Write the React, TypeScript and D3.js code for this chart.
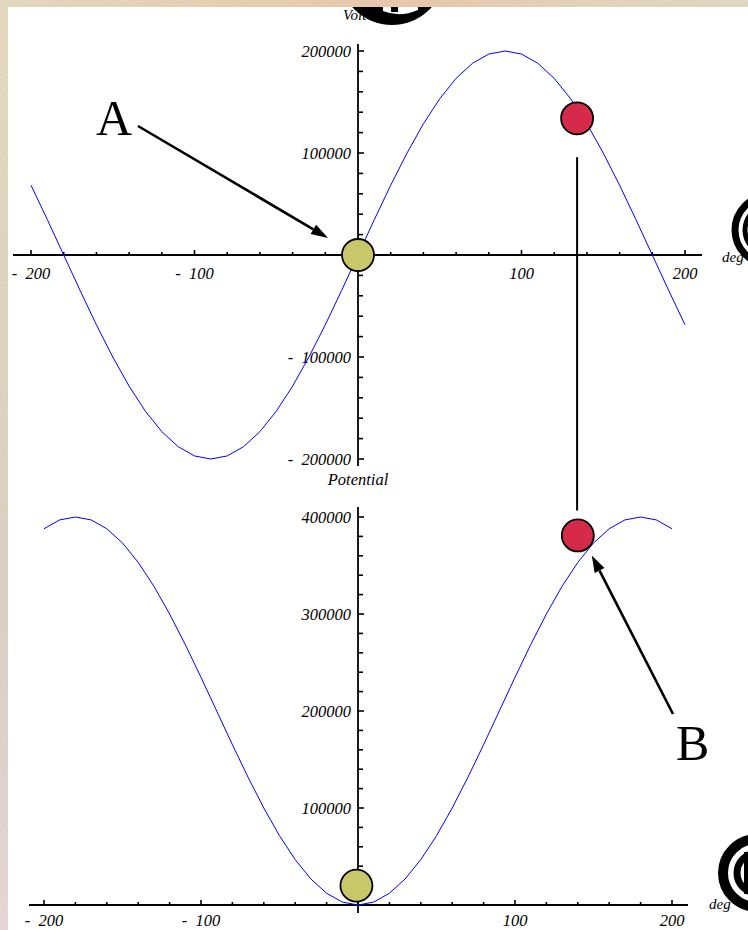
import React from "react";
import * as d3 from "d3";

// Sampled angle (degrees) and the readings of the two plotted quantities
const angles = [
  -200, -190, -180, -170, -160, -150, -140, -130, -120, -110, -100, -90, -80, -70, -60, -50, -40, -30, -20, -10,
  0, 10, 20, 30, 40, 50, 60, 70, 80, 90, 100, 110, 120, 130, 140, 150, 160, 170, 180, 190, 200,
];
const voltage = [
  68400, 34700, 0, -34700, -68400, -100000, -128600, -153200, -173200, -187900, -197000, -200000, -197000, -187900,
  -173200, -153200, -128600, -100000, -68400, -34700, 0, 34700, 68400, 100000, 128600, 153200, 173200, 187900,
  197000, 200000, 197000, 187900, 173200, 153200, 128600, 100000, 68400, 34700, 0, -34700, -68400,
];
const potential = [
  387900, 397000, 400000, 397000, 387900, 373200, 353200, 328600, 300000, 268400, 234700, 200000, 165300, 131600,
  100000, 71400, 46800, 26800, 12100, 3000, 0, 3000, 12100, 26800, 46800, 71400, 100000, 131600, 165300, 200000,
  234700, 268400, 300000, 328600, 353200, 373200, 387900, 397000, 400000, 397000, 387900,
];

// Axis ticks
const angleMajorTicks = [-200, -100, 100, 200];
const angleMinorTicks = d3.range(-200, 201, 20);
const voltageLabels = [-200000, -100000, 100000, 200000];
const voltageMinorTicks = d3.range(-200000, 200001, 20000);
const potentialLabels = [100000, 200000, 300000, 400000];
const potentialMinorTicks = d3.range(20000, 400001, 20000);

// Highlighted states
const voltMarkers = [
  { angle: 0, value: 0, color: "#c8c76a" },
  { angle: 134, value: 134000, color: "#d62a4b" },
];
const potentialMarkers = [
  { angle: -1, value: 20000, color: "#c8c76a" },
  { angle: 140, value: 381000, color: "#d62a4b" },
];

const W = 748;
const H = 930;
const FONT = "'Liberation Serif', 'DejaVu Serif', serif";

const fmt = (n: number) => (n < 0 ? "-\u2002" + Math.abs(n) : String(n));

function Arrow({ x1, y1, x2, y2 }: { x1: number; y1: number; x2: number; y2: number }) {
  const ang = Math.atan2(y2 - y1, x2 - x1);
  const len = 17;
  const half = 5.5;
  const bx = x2 - len * Math.cos(ang);
  const by = y2 - len * Math.sin(ang);
  const px = -Math.sin(ang) * half;
  const py = Math.cos(ang) * half;
  return (
    <g>
      <line x1={x1} y1={y1} x2={bx} y2={by} stroke="#000" strokeWidth={2.6} />
      <path d={`M${x2},${y2} L${bx + px},${by + py} L${bx - px},${by - py} Z`} fill="#000" />
    </g>
  );
}

export default function App() {
  // Voltage panel scales
  const xT = d3.scaleLinear().domain([-200, 200]).range([31, 685]);
  const yT = d3.scaleLinear().domain([-200000, 200000]).range([459, 51]);
  // Potential panel scales
  const xB = d3.scaleLinear().domain([-200, 200]).range([44, 672]);
  const yB = d3.scaleLinear().domain([0, 400000]).range([905, 517]);

  const voltLine = d3
    .line<number>()
    .x((_, i) => xT(angles[i]))
    .y((d) => yT(d));
  const potLine = d3
    .line<number>()
    .x((_, i) => xB(angles[i]))
    .y((d) => yB(d));

  const textStyle = { fontFamily: FONT, fontStyle: "italic" as const, fontSize: 16.5 };

  const topAxisY = yT(0);
  const topAxisX = xT(0);
  const botAxisY = yB(0);
  const botAxisX = xB(0);

  const redTop = voltMarkers[1];
  const redBot = potentialMarkers[1];

  return (
    <svg
      width={W}
      height={H}
      viewBox={`0 0 ${W} ${H}`}
      style={{ position: "fixed", left: 0, top: 0, display: "block" }}
    >
      <defs>
        <linearGradient id="bgTop" x1="0" x2="1" y1="0" y2="0">
          <stop offset="0" stopColor="#e7dcc3" />
          <stop offset="0.3" stopColor="#e9d2b4" />
          <stop offset="0.55" stopColor="#ecc9ae" />
          <stop offset="0.8" stopColor="#e6d7bd" />
          <stop offset="1" stopColor="#e2dcc6" />
        </linearGradient>
        <linearGradient id="bgLeft" x1="0" x2="0" y1="0" y2="1">
          <stop offset="0" stopColor="#e8dcc2" />
          <stop offset="0.35" stopColor="#e2d8c2" />
          <stop offset="0.65" stopColor="#ddd3c6" />
          <stop offset="1" stopColor="#ead9da" />
        </linearGradient>
        <filter id="grain" x="0" y="0" width="100%" height="100%">
          <feTurbulence type="fractalNoise" baseFrequency="0.35" numOctaves="2" seed="4" />
          <feColorMatrix type="matrix" values="0 0 0 0 0.45  0 0 0 0 0.4  0 0 0 0 0.33  0 0 0 0.35 0" />
          <feComposite in2="SourceGraphic" operator="in" />
        </filter>
        <clipPath id="panelClip">
          <rect x={8} y={7} width={W - 8} height={H - 7} />
        </clipPath>
      </defs>

      {/* backdrop strips */}
      <rect x={0} y={0} width={W} height={H} fill="url(#bgLeft)" />
      <rect x={0} y={0} width={W} height={8} fill="url(#bgTop)" />
      <rect x={0} y={0} width={W} height={H} fill="#000" filter="url(#grain)" opacity={0.5} />
      <rect x={8} y={7} width={W - 8} height={H - 7} fill="#fff" />

      {/* ---------- Voltage panel ---------- */}
      <g>
        <line x1={13} x2={702} y1={topAxisY} y2={topAxisY} stroke="#000" strokeWidth={1.8} />
        {angleMinorTicks.map((t) => (
          <line
            key={`tm${t}`}
            x1={xT(t)}
            x2={xT(t)}
            y1={topAxisY}
            y2={topAxisY - (angleMajorTicks.includes(t) ? 5 : 3)}
            stroke="#000"
            strokeWidth={1.6}
          />
        ))}
        {angleMajorTicks.map((t) => (
          <text key={`tl${t}`} x={xT(t)} y={topAxisY + 24} textAnchor="middle" {...textStyle}>
            {fmt(t)}
          </text>
        ))}
        <line x1={topAxisX} x2={topAxisX} y1={44} y2={466} stroke="#000" strokeWidth={1.8} />
        {voltageMinorTicks
          .filter((v) => v !== 0)
          .map((v) => (
            <line
              key={`vm${v}`}
              x1={topAxisX}
              x2={topAxisX + (voltageLabels.includes(v) ? 6 : 5)}
              y1={yT(v)}
              y2={yT(v)}
              stroke="#000"
              strokeWidth={1.6}
            />
          ))}
        {voltageLabels.map((v) => (
          <text key={`vl${v}`} x={topAxisX - 7} y={yT(v) + 5.5} textAnchor="end" {...textStyle}>
            {fmt(v)}
          </text>
        ))}
        <text x={343} y={20} {...textStyle} fontSize={15}>
          Volt
        </text>
        <text x={722} y={262} {...textStyle} fontSize={15}>
          deg
        </text>
        <path d={voltLine(voltage) ?? ""} fill="none" stroke="#0000ff" strokeWidth={1} />
      </g>

      {/* ---------- Potential panel ---------- */}
      <g>
        <line x1={29} x2={688} y1={botAxisY} y2={botAxisY} stroke="#000" strokeWidth={1.8} />
        {angleMinorTicks.map((t) => (
          <line
            key={`bm${t}`}
            x1={xB(t)}
            x2={xB(t)}
            y1={botAxisY}
            y2={botAxisY - (angleMajorTicks.includes(t) ? 5 : 3)}
            stroke="#000"
            strokeWidth={1.6}
          />
        ))}
        {angleMajorTicks.map((t) => (
          <text key={`bl${t}`} x={xB(t)} y={botAxisY + 21} textAnchor="middle" {...textStyle}>
            {fmt(t)}
          </text>
        ))}
        <line x1={botAxisX} x2={botAxisX} y1={507} y2={913} stroke="#000" strokeWidth={1.8} />
        {potentialMinorTicks.map((v) => (
          <line
            key={`pm${v}`}
            x1={botAxisX}
            x2={botAxisX + (potentialLabels.includes(v) ? 6 : 5)}
            y1={yB(v)}
            y2={yB(v)}
            stroke="#000"
            strokeWidth={1.6}
          />
        ))}
        {potentialLabels.map((v) => (
          <text key={`pl${v}`} x={botAxisX - 7} y={yB(v) + 5.5} textAnchor="end" {...textStyle}>
            {fmt(v)}
          </text>
        ))}
        <text x={botAxisX} y={485} textAnchor="middle" {...textStyle}>
          Potential
        </text>
        <text x={709} y={909} {...textStyle} fontSize={15}>
          deg
        </text>
        <path d={potLine(potential) ?? ""} fill="none" stroke="#0000ff" strokeWidth={1} />
      </g>

      {/* link between the two red states */}
      <line
        x1={xT(redTop.angle)}
        x2={xT(redTop.angle)}
        y1={yT(redTop.value) + 39}
        y2={yB(redBot.value) - 25}
        stroke="#000"
        strokeWidth={2}
      />

      {/* state markers */}
      {voltMarkers.map((m, i) => (
        <circle key={`vc${i}`} cx={xT(m.angle)} cy={yT(m.value)} r={16} fill={m.color} stroke="#000" strokeWidth={1.8} />
      ))}
      {potentialMarkers.map((m, i) => (
        <circle key={`pc${i}`} cx={xB(m.angle)} cy={yB(m.value)} r={16} fill={m.color} stroke="#000" strokeWidth={1.8} />
      ))}

      {/* callouts */}
      <text x={96} y={135} fontFamily={FONT} fontSize={50}>
        A
      </text>
      <Arrow x1={138} y1={126} x2={xT(0) - 30} y2={yT(0) - 17} />
      <text x={676} y={760} fontFamily={FONT} fontSize={50}>
        B
      </text>
      <Arrow x1={673} y1={714} x2={xB(redBot.angle) + 14} y2={yB(redBot.value) + 20} />

      {/* partially visible round emblems at the edges */}
      <g clipPath="url(#panelClip)">
        <circle cx={392} cy={-28} r={53} fill="#000" />
        <path d="M383,7 L383,11 Q400,18 418,10 L418,7 Z" fill="#fff" />
        <rect x={391} y={7} width={7} height={5} fill="#000" />
        <circle cx={769} cy={230} r={34} fill="#fff" stroke="#000" strokeWidth={7} />
        <circle cx={769} cy={230} r={24} fill="none" stroke="#000" strokeWidth={5} />
        <circle cx={757} cy={873} r={34} fill="#fff" stroke="#000" strokeWidth={10} />
        <circle cx={757} cy={873} r={20} fill="none" stroke="#000" strokeWidth={7} />
        <rect x={744} y={852} width={6} height={42} fill="#000" />
      </g>
    </svg>
  );
}
